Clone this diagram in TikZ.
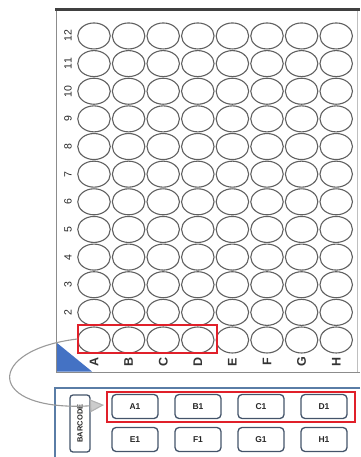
\documentclass[tikz,border=0pt]{standalone}
\usepackage{fontspec}
\setmainfont{Liberation Sans}
\usetikzlibrary{arrows.meta,shapes.geometric}
\definecolor{wellc}{HTML}{606060}
\definecolor{tri}{HTML}{4472C4}
\definecolor{redc}{HTML}{E0202A}
\definecolor{panel}{HTML}{5A7DA6}
\definecolor{boxc}{HTML}{44546A}
\definecolor{connc}{HTML}{9A9A9A}
\tikzset{
  well/.style={draw=wellc, line width=1.1pt, ellipse, minimum width=32.5pt, minimum height=26pt, inner sep=0pt},
  rowlab/.style={rotate=90, font=\fontsize{10.5}{10.5}\selectfont, text=black!85},
  collab/.style={rotate=90, font=\bfseries\fontsize{12.5}{12.5}\selectfont, text=black!80},
  wbox/.style={draw=boxc, line width=1.3pt, rounded corners=4pt, minimum width=46pt, minimum height=24pt, inner sep=0pt, font=\bfseries\fontsize{8.5}{8.5}\selectfont, text=black!85},
  redbox/.style={draw=redc, line width=1.3pt},
  conn/.style={draw=connc, line width=1.1pt, -{Triangle[length=14pt,width=13pt,fill=black!20,color=black!30]}},
}
\begin{document}
\begin{tikzpicture}[x=1pt,y=-1pt]
\useasboundingbox (0,0) rectangle (360,457);
% plate frame
\draw[black!45, line width=1pt] (56.5,10) -- (56.5,372) -- (360,372);
\draw[black!25, line width=1pt] (357,10) -- (357,372);
\draw[black!75, line width=3pt] (55,10) -- (360,10);
% triangle
\fill[tri] (57,343) -- (57,371.5) -- (92,371.5) -- cycle;
% wells
\foreach \c [count=\i from 0] in {A,B,C,D,E,F,G,H}{
  \foreach \r in {1,...,12}{
    \node[well] (w\c\r) at ({94+\i*34.6},{340-(\r-1)*27.64}) {};
  }
  \node[collab] (cl\c) at ({94+\i*34.6},362) {\c};
}
\foreach \r in {2,...,12}{
  \node[rowlab] (rl\r) at (68,{340-(\r-1)*27.64}) {\r};
}
\node[redbox, draw, minimum width=139pt, minimum height=28pt, inner sep=0pt] (redtop) at (147.5,339) {};
% bottom panel
\draw[panel, line width=1.6pt] (360,388) -- (55,388) -- (55,460);
\node[draw=boxc, line width=1.3pt, rounded corners=3pt, minimum width=20pt, minimum height=57pt, inner sep=0pt] (barcode) at (80,423.5) {};
\node[rotate=90, font=\bfseries\fontsize{7.5}{7.5}\selectfont, text=black!85] (bctext) at (80,423.5) {BARCODE};
\foreach \n/\m [count=\i from 0] in {A1/E1,B1/F1,C1/G1,D1/H1}{
  \node[wbox] (b\n) at ({135+\i*63},406.5) {\n};
  \node[wbox] (b\m) at ({135+\i*63},439.5) {\m};
}
\node[redbox, draw, minimum width=248pt, minimum height=30pt, inner sep=0pt] (redbot) at (231,407) {};
% connector
\coordinate (arrend) at (104,405);
\draw[conn] (redtop.west |- wA1) ++(0,-1) .. controls (-15,350) and (-15,412) .. (arrend);
\end{tikzpicture}
\end{document}
